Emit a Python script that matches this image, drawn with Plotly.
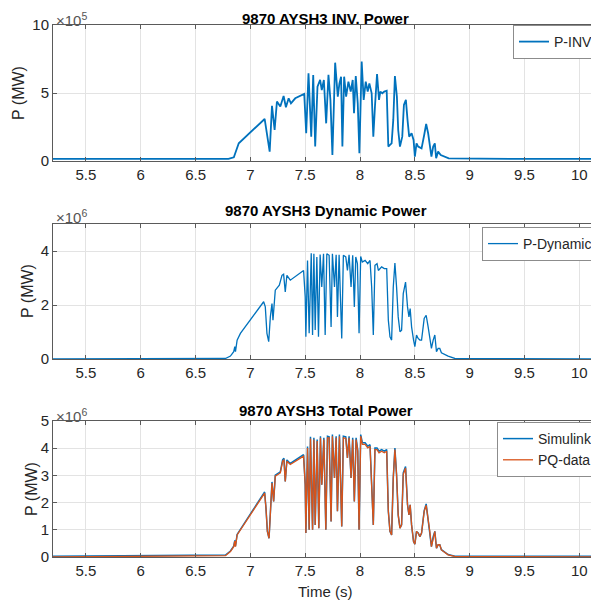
import plotly.graph_objects as go

# ---------------- data ----------------
# Plot 1: INV power (units of 1e5)
t_inv = [5.2, 6.0, 6.8, 6.849, 6.894, 7.130, 7.176, 7.197, 7.221, 7.242, 7.273, 7.303, 7.324, 7.349,
         7.370, 7.409, 7.491, 7.509, 7.530, 7.555, 7.573, 7.591, 7.612, 7.636, 7.651, 7.670, 7.691,
         7.712, 7.730, 7.748, 7.773, 7.797, 7.812, 7.827, 7.839, 7.855, 7.873, 7.894, 7.915, 7.933,
         7.945, 7.961, 7.979, 7.994, 8.015, 8.033, 8.052, 8.070, 8.085, 8.106, 8.121, 8.136, 8.155,
         8.173, 8.185, 8.203, 8.221, 8.243, 8.258, 8.273, 8.288, 8.303, 8.318, 8.336, 8.348, 8.364,
         8.385, 8.400, 8.418, 8.433, 8.448, 8.470, 8.488, 8.500, 8.515, 8.530, 8.561, 8.585, 8.603,
         8.621, 8.636, 8.651, 8.667, 8.682, 8.694, 8.712, 8.736, 8.773, 8.809, 9.5, 10.2]
p_inv = [0.15, 0.15, 0.15, 0.27, 1.30, 3.09, 0.69, 4.05, 2.28, 4.37, 4.00, 4.78, 3.95, 4.61,
         4.24, 4.61, 4.93, 2.04, 6.45, 1.79, 6.33, 1.06, 5.47, 5.96, 5.22, 5.96, 2.77,
         6.33, 4.49, 0.44, 7.23, 4.73, 5.71, 6.20, 1.06, 6.20, 4.73, 5.84, 5.10, 5.96,
         3.51, 6.25, 4.24, 0.57, 7.31, 4.49, 5.84, 5.10, 5.71, 4.98, 1.79, 4.00, 6.40,
         4.49, 5.10, 4.98, 5.10, 5.17, 1.06, 1.18, 1.30, 3.02, 6.25, 4.73, 2.28, 1.06,
         1.79, 4.12, 4.49, 3.02, 1.79, 2.04, 1.55, 0.32, 1.30, 1.06, 0.93, 1.91, 2.72,
         2.04, 1.30, 0.32, 1.06, 1.30, 0.20, 0.69, 0.44, 0.32, 0.20, 0.15, 0.15]

# Plot 2: Dynamic power (units of 1e6)
t_dyn = [5.2, 6.773, 6.818, 6.848, 6.858, 6.864, 6.879, 6.909, 7.121, 7.136, 7.151, 7.167, 7.182,
         7.197, 7.206, 7.227, 7.264, 7.288, 7.303, 7.318, 7.333, 7.364, 7.485, 7.500, 7.506, 7.521,
         7.536, 7.555, 7.567, 7.579, 7.591, 7.606, 7.621, 7.636, 7.651, 7.667, 7.682, 7.697, 7.718,
         7.736, 7.748, 7.767, 7.782, 7.794, 7.809, 7.833, 7.848, 7.870, 7.885, 7.900, 7.918, 7.933,
         7.948, 7.961, 7.976, 7.991, 8.006, 8.021, 8.046, 8.070, 8.091, 8.106, 8.121, 8.136, 8.155,
         8.167, 8.197, 8.221, 8.243, 8.258, 8.273, 8.288, 8.303, 8.318, 8.333, 8.348, 8.364, 8.379,
         8.394, 8.415, 8.433, 8.446, 8.457, 8.470, 8.488, 8.500, 8.515, 8.530, 8.546, 8.561, 8.585,
         8.603, 8.621, 8.636, 8.651, 8.667, 8.682, 8.697, 8.712, 8.727, 8.742, 8.803, 8.864, 10.2]
p_dyn = [0.0, 0.02, 0.11, 0.27, 0.46, 0.27, 0.70, 0.95, 2.12, 1.93, 0.95, 0.64, 1.56,
         2.05, 1.44, 2.55, 2.73, 3.10, 3.14, 2.48, 3.10, 2.92, 3.28, 2.30, 0.82, 3.65,
         0.95, 3.92, 0.89, 3.90, 1.07, 3.78, 0.82, 3.87, 2.67, 3.90, 0.89, 3.90, 3.84,
         1.19, 3.90, 2.67, 3.86, 1.56, 3.86, 0.76, 3.84, 3.78, 3.28, 3.86, 2.67, 3.84,
         1.93, 3.78, 3.53, 0.95, 3.80, 3.59, 3.65, 3.53, 3.65, 2.67, 0.89, 3.47, 3.53,
         3.28, 3.41, 3.35, 3.35, 1.44, 0.82, 0.70, 2.67, 3.55, 2.67, 1.56, 1.01, 1.07,
         2.42, 2.85, 1.93, 1.56, 1.87, 1.19, 0.70, 0.46, 0.89, 0.76, 0.70, 0.70, 1.50,
         1.62, 1.19, 0.82, 0.39, 0.70, 0.89, 0.27, 0.39, 0.39, 0.23, 0.11, 0.02, 0.0]

# Plot 3: Total power (units of 1e6)
t_tot = [5.2, 6.773, 6.818, 6.848, 6.858, 6.864, 6.879, 7.130, 7.142, 7.155, 7.170, 7.185, 7.197,
         7.212, 7.227, 7.273, 7.294, 7.306, 7.318, 7.333, 7.364, 7.485, 7.500, 7.506, 7.521, 7.536,
         7.548, 7.567, 7.579, 7.591, 7.609, 7.624, 7.639, 7.651, 7.670, 7.688, 7.703, 7.718, 7.736,
         7.748, 7.767, 7.782, 7.794, 7.812, 7.833, 7.848, 7.870, 7.885, 7.900, 7.918, 7.933, 7.948,
         7.964, 7.979, 7.991, 8.006, 8.021, 8.046, 8.070, 8.091, 8.106, 8.121, 8.136, 8.155, 8.173,
         8.197, 8.221, 8.243, 8.258, 8.273, 8.288, 8.303, 8.318, 8.333, 8.348, 8.364, 8.379, 8.394,
         8.415, 8.433, 8.446, 8.457, 8.470, 8.488, 8.500, 8.515, 8.530, 8.546, 8.561, 8.585, 8.603,
         8.621, 8.636, 8.651, 8.667, 8.682, 8.697, 8.712, 8.727, 8.742, 8.803, 8.864, 10.2]
p_pq = [0.0, 0.05, 0.20, 0.38, 0.59, 0.38, 0.81, 2.35, 1.80, 0.94, 0.69, 1.68, 2.72,
        2.04, 2.97, 3.09, 3.52, 3.58, 2.78, 3.52, 3.40, 3.71, 2.66, 0.88, 4.01, 1.00,
        4.36, 1.00, 4.32, 1.18, 4.26, 1.06, 4.38, 2.66, 4.32, 1.00, 4.38, 4.38, 1.31,
        4.44, 2.91, 4.38, 1.68, 4.44, 1.12, 4.38, 4.36, 3.64, 4.38, 2.91, 4.32, 2.04,
        4.32, 3.89, 1.00, 4.44, 4.14, 4.14, 4.01, 4.07, 2.66, 1.18, 3.95, 3.95, 3.83,
        3.89, 3.83, 3.89, 1.68, 0.94, 0.81, 2.91, 3.95, 3.03, 1.55, 1.06, 1.18, 3.03,
        3.27, 1.92, 1.55, 1.92, 1.18, 0.57, 0.47, 0.94, 0.88, 0.75, 0.88, 1.68, 1.90,
        1.43, 0.94, 0.38, 0.75, 0.94, 0.32, 0.45, 0.45, 0.26, 0.08, 0.02, 0.0]
p_sim = [0.03, 0.07, 0.22, 0.40, 0.61, 0.40, 0.83, 2.39, 1.80, 0.94, 0.69, 1.68, 2.76,
         2.04, 3.01, 3.13, 3.57, 3.63, 2.78, 3.57, 3.44, 3.76, 2.66, 0.88, 4.06, 1.00,
         4.42, 1.00, 4.38, 1.18, 4.32, 1.06, 4.44, 2.66, 4.38, 1.00, 4.44, 4.42, 1.31,
         4.50, 2.91, 4.44, 1.68, 4.50, 1.12, 4.44, 4.42, 3.64, 4.44, 2.91, 4.38, 2.04,
         4.38, 3.93, 1.00, 4.50, 4.20, 4.20, 4.07, 4.13, 2.66, 1.18, 4.01, 4.01, 3.89,
         3.95, 3.89, 3.95, 1.68, 0.94, 0.81, 2.91, 4.01, 3.03, 1.55, 1.06, 1.18, 3.09,
         3.33, 1.92, 1.55, 1.92, 1.18, 0.57, 0.47, 0.94, 0.88, 0.75, 0.88, 1.70, 1.95,
         1.43, 0.94, 0.38, 0.75, 0.94, 0.32, 0.45, 0.45, 0.27, 0.09, 0.03, 0.03]

x_ticks = [5.5, 6, 6.5, 7, 7.5, 8, 8.5, 9, 9.5, 10]
x_ticktext = ["5.5", "6", "6.5", "7", "7.5", "8", "8.5", "9", "9.5", "10"]
y1_ticks = [0, 5, 10]
y2_ticks = [0, 2, 4]
y3_ticks = [0, 1, 2, 3, 4, 5]

titles = ["9870 AYSH3 INV. Power", "9870 AYSH3 Dynamic Power", "9870 AYSH3 Total Power"]
exponents = ["×10<sup>5</sup>", "×10<sup>6</sup>", "×10<sup>6</sup>"]

BLUE = "#0072BD"
ORANGE = "#D95319"
AX = "#5a5a5a"
GRID = "#e3e3e3"
TXT = "#262626"
FONT = "Liberation Sans, Arial, sans-serif"

# ---------------- figure ----------------
# The page body has an 8px margin, so the figure is placed at (8, 8) in the window.
OFF = 8
WIN_W, WIN_H = 599, 603
W, H = WIN_W - OFF, WIN_H - OFF
PL, PR, PT, PB = 53, 598, 25, 557           # plot-area extents in window pixels
ML, MR, MT, MB = PL - OFF, WIN_W - PR, PT - OFF, WIN_H - PB
ph = PB - PT
pw = PR - PL


def py(p):  # window pixel y -> paper y
    return (PB - p) / ph


def px(p):  # window pixel x -> paper x
    return (p - PL) / pw


fig = go.Figure()
fig.add_trace(go.Scatter(x=t_inv, y=p_inv, mode="lines", name="P-INV",
                         line=dict(color=BLUE, width=1.8), xaxis="x", yaxis="y", legend="legend"))
fig.add_trace(go.Scatter(x=t_dyn, y=p_dyn, mode="lines", name="P-Dynamic",
                         line=dict(color=BLUE, width=1.3), xaxis="x2", yaxis="y2", legend="legend2"))
fig.add_trace(go.Scatter(x=t_tot, y=p_sim, mode="lines", name="Simulink",
                         line=dict(color=BLUE, width=1.5), xaxis="x3", yaxis="y3", legend="legend3"))
fig.add_trace(go.Scatter(x=t_tot, y=p_pq, mode="lines", name="PQ-data",
                         line=dict(color=ORANGE, width=1.3), xaxis="x3", yaxis="y3", legend="legend3"))

domains = [[py(161), py(25)], [py(359), py(224)], [py(557), py(421)]]
yticks = [y1_ticks, y2_ticks, y3_ticks]
yranges = [[0, 10], [0, 5], [0, 5]]

axis_common = dict(showline=True, linecolor=AX, linewidth=1, mirror="ticks", ticks="inside",
                   ticklen=4, tickcolor=AX, showgrid=True, gridcolor=GRID, gridwidth=1,
                   zeroline=False, tickfont=dict(family=FONT, size=15, color=TXT))

layout = dict(width=W, height=H, margin=dict(l=ML, r=MR, t=MT, b=MB),
              paper_bgcolor="white", plot_bgcolor="white", showlegend=True)
for i in range(3):
    s = "" if i == 0 else str(i + 1)
    layout["xaxis" + s] = dict(axis_common, domain=[0, 1], range=[5.2, 10.17],
                               tickvals=x_ticks, ticktext=x_ticktext, anchor="y" + s)
    layout["yaxis" + s] = dict(axis_common, domain=domains[i], range=yranges[i],
                               tickvals=yticks[i], anchor="x" + s)

leg_common = dict(xanchor="right", yanchor="top", x=1, bgcolor="white", bordercolor="#8c8c8c",
                  borderwidth=1, font=dict(family=FONT, size=14, color=TXT),
                  tracegroupgap=0, itemwidth=30)
layout["legend"] = dict(leg_common, y=py(25))
layout["legend2"] = dict(leg_common, y=py(227))
layout["legend3"] = dict(leg_common, y=py(422))
fig.update_layout(**layout)

ann = []
title_top = [8, 200, 400]
exp_top = [8, 205, 404]
ylab_x = [18, 27, 31]
ylab_y = [93, 291, 489]
for i in range(3):
    ann.append(dict(text="<b>" + titles[i] + "</b>", x=0.5, y=py(title_top[i]), xref="paper", yref="paper",
                    xanchor="center", yanchor="top", showarrow=False,
                    font=dict(family=FONT, size=15, color="#000000")))
    ann.append(dict(text=exponents[i], x=px(54), y=py(exp_top[i]), xref="paper", yref="paper",
                    xanchor="left", yanchor="top", showarrow=False,
                    font=dict(family=FONT, size=15, color="#555555")))
    ann.append(dict(text="P (MW)", x=px(ylab_x[i]), y=py(ylab_y[i]), xref="paper", yref="paper",
                    xanchor="center", yanchor="middle", showarrow=False, textangle=-90,
                    font=dict(family=FONT, size=16, color=TXT)))
ann.append(dict(text="Time (s)", x=px(325), y=py(591), xref="paper", yref="paper",
                xanchor="center", yanchor="middle", showarrow=False,
                font=dict(family=FONT, size=15, color=TXT)))
fig.update_layout(annotations=ann)

fig.write_html("out.html")
